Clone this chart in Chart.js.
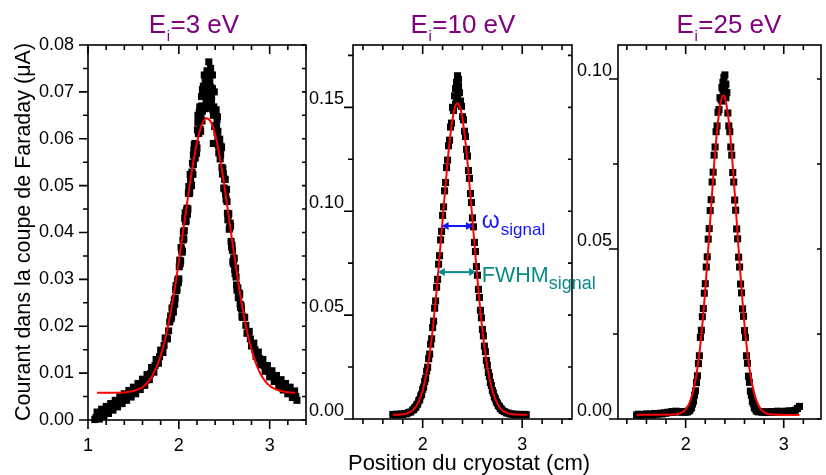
<!DOCTYPE html>
<html><head><meta charset="utf-8">
<script src="https://cdn.jsdelivr.net/npm/chart.js@4.4.1/dist/chart.umd.min.js"></script>
<style>
html,body{margin:0;padding:0;background:#fff;}
#wrap{position:relative;width:826px;height:475px;overflow:hidden;background:#fff;}
canvas{position:absolute;left:0;top:0;}
</style>
</head><body>
<div id="wrap">
<canvas id="c1" width="826" height="475"></canvas>
<canvas id="c2" width="826" height="475"></canvas>
<canvas id="c3" width="826" height="475"></canvas>
</div>
<script>
// ---------------- DATA ----------------
const panelEnergies = ['3', '10', '25'];
const yTitleText = 'Courant dans la coupe de Faraday (\u03BCA)';
const xTitleText = 'Position du cryostat (cm)';

const p1XTicks = [1, 2, 3];
const p1YTicks = [0, 0.01, 0.02, 0.03, 0.04, 0.05, 0.06, 0.07, 0.08];
const p2XTicks = [2, 3];
const p2YTicks = [0, 0.05, 0.10, 0.15];
const p3XTicks = [2, 3];
const p3YTicks = [0, 0.05, 0.10];

// Panel 1 (Ei = 3 eV) measured points [position, current]
const p1Data = [
// left tail
[1.075,.0001],[1.100,.0017],[1.125,.0002],[1.150,.0023],[1.175,.0008],[1.200,.0029],[1.225,.0014],[1.250,.0035],[1.275,.0021],[1.300,.0042],
[1.325,.0028],[1.350,.0049],[1.375,.0035],[1.400,.0056],[1.425,.0042],[1.450,.0063],[1.475,.0049],[1.500,.0070],[1.525,.0056],[1.550,.0078],
[1.575,.0065],[1.600,.0087],[1.625,.0074],[1.650,.0097],[1.675,.0086],[1.700,.0112],[1.725,.0102],[1.750,.0129],[1.775,.0121],[1.800,.0149],
[1.825,.0144],[1.850,.0175],[1.875,.0173],[1.900,.0209],
[1.0875,.0005],[1.1125,.0009],[1.1375,.0012],[1.1625,.0015],[1.1875,.0018],[1.2125,.0021],[1.2375,.0024],[1.2625,.0028],[1.2875,.0031],[1.3125,.0035],
[1.3375,.0038],[1.3625,.0042],[1.3875,.0045],[1.4125,.0049],[1.4375,.0052],[1.4625,.0056],[1.4875,.0059],[1.5125,.0063],[1.5375,.0067],[1.5625,.0071],
[1.5875,.0076],[1.6125,.0080],[1.6375,.0085],[1.6625,.0092],[1.6875,.0099],[1.7125,.0107],[1.7375,.0116],[1.7625,.0125],[1.7875,.0135],[1.8125,.0146],
[1.8375,.0159],[1.8625,.0174],[1.8875,.0190],
// core
[1.91,.0222],[1.92,.0220],[1.93,.0234],[1.94,.0231],[1.95,.0256],[1.96,.0260],[1.97,.0287],[1.98,.0279],[1.99,.0300],[2.00,.0301],
[2.01,.0341],[2.02,.0339],[2.03,.0363],[2.04,.0360],[2.05,.0401],[2.06,.0404],[2.07,.0442],[2.08,.0425],[2.09,.0452],[2.10,.0450],
[2.11,.0498],[2.12,.0486],[2.13,.0512],[2.14,.0500],[2.15,.0548],[2.16,.0545],[2.17,.0588],[2.18,.0559],[2.19,.0588],[2.20,.0580],
[2.21,.0635],[2.22,.0612],[2.23,.0638],[2.24,.0616],[2.25,.0670],[2.26,.0659],[2.27,.0703],[2.28,.0664],[2.29,.0691],[2.30,.0678],
[2.31,.0729],[2.32,.0698],[2.33,.0713],[2.34,.0674],[2.35,.0710],[2.36,.0681],[2.37,.0707],[2.38,.0650],[2.39,.0659],[2.40,.0628],
[2.41,.0662],[2.42,.0614],[2.43,.0616],[2.44,.0570],[2.45,.0599],[2.46,.0566],[2.47,.0581],[2.48,.0525],[2.49,.0525],[2.50,.0493],
[2.51,.0513],[2.52,.0471],[2.53,.0466],[2.54,.0427],[2.55,.0440],[2.56,.0410],[2.57,.0414],[2.58,.0369],[2.59,.0362],[2.60,.0333],
[2.61,.0344],[2.62,.0312],[2.63,.0305],[2.64,.0277],[2.65,.0281],[2.66,.0264],[2.67,.0268],[2.68,.0240],[2.69,.0237],
[1.915,.0216],[1.925,.0239],[1.935,.0230],[1.945,.0246],[1.955,.0247],[1.965,.0278],[1.975,.0276],[1.985,.0295],[1.995,.0293],[2.005,.0327],
[2.015,.0333],[2.025,.0368],[2.035,.0358],[2.045,.0384],[2.055,.0386],[2.065,.0430],[2.075,.0423],[2.085,.0447],[2.095,.0439],[2.105,.0484],
[2.115,.0483],[2.125,.0524],[2.135,.0501],[2.145,.0529],[2.155,.0524],[2.165,.0576],[2.175,.0559],[2.185,.0585],[2.195,.0569],[2.205,.0619],
[2.215,.0611],[2.225,.0656],[2.235,.0620],[2.245,.0649],[2.255,.0638],[2.265,.0693],[2.275,.0667],[2.285,.0691],[2.295,.0667],[2.305,.0717],
[2.315,.0701],[2.325,.0738],[2.335,.0687],[2.345,.0698],[2.355,.0668],[2.365,.0706],[2.375,.0662],[2.385,.0668],[2.395,.0626],[2.405,.0658],
[2.415,.0625],[2.425,.0647],[2.435,.0586],[2.445,.0591],[2.455,.0557],[2.465,.0584],[2.475,.0539],[2.485,.0536],[2.495,.0495],[2.505,.0514],
[2.515,.0482],[2.525,.0492],[2.535,.0441],[2.545,.0438],[2.555,.0407],[2.565,.0420],[2.575,.0381],[2.585,.0373],[2.595,.0338],[2.605,.0346],
[2.615,.0321],[2.625,.0324],[2.635,.0288],[2.645,.0282],[2.655,.0261],[2.665,.0271],[2.675,.0247],[2.685,.0244],[2.695,.0222],
// peak scatter
[2.33,.0764],[2.28,.0736],[2.37,.0736],[2.31,.0745],[2.35,.0750],[2.34,.0722],[2.27,.0712],[2.36,.0690],[2.25,.0690],[2.32,.0665],
[2.23,.0668],[2.40,.0660],[2.21,.0650],[2.42,.0640],[2.38,.0590],[2.43,.0600],[2.18,.0590],[2.16,.0565],[2.45,.0570],[2.29,.0725],
[2.39,.0700],[2.26,.0705],
// right tail
[2.700,.0219],[2.725,.0219],[2.750,.0185],[2.775,.0189],[2.800,.0158],[2.825,.0164],[2.850,.0136],[2.875,.0145],[2.900,.0118],[2.925,.0129],
[2.950,.0104],[2.975,.0116],[3.000,.0092],[3.025,.0105],[3.050,.0082],[3.075,.0095],[3.100,.0072],[3.125,.0086],[3.150,.0064],[3.175,.0078],
[3.200,.0056],[3.225,.0070],[3.250,.0048],[3.275,.0062],[3.300,.0042],
[2.7125,.0219],[2.7375,.0202],[2.7625,.0187],[2.7875,.0173],[2.8125,.0161],[2.8375,.0150],[2.8625,.0140],[2.8875,.0131],[2.9125,.0123],[2.9375,.0116],
[2.9625,.0110],[2.9875,.0104],[3.0125,.0098],[3.0375,.0093],[3.0625,.0088],[3.0875,.0083],[3.1125,.0079],[3.1375,.0075],[3.1625,.0071],[3.1875,.0067],
[3.2125,.0063],[3.2375,.0059],[3.2625,.0055],[3.2875,.0050]
];
// Panel 1 fit (red)
const p1Fit = [
[1.10,.0058],[1.30,.0058],[1.50,.0062],[1.55,.0065],[1.60,.0070],[1.65,.0079],[1.70,.0092],[1.75,.0111],[1.80,.0137],[1.85,.0173],
[1.90,.0219],[1.95,.0274],[2.00,.0338],[2.05,.0406],[2.10,.0475],[2.15,.0539],[2.20,.0592],[2.25,.0628],[2.30,.0644],[2.35,.0637],
[2.40,.0609],[2.45,.0562],[2.50,.0502],[2.55,.0434],[2.60,.0365],[2.65,.0299],[2.70,.0240],[2.75,.0190],[2.80,.0151],[2.85,.0120],
[2.90,.0098],[2.95,.0083],[3.00,.0073],[3.05,.0067],[3.10,.0063],[3.15,.0061],[3.20,.0059],[3.28,.0058]
];

// Panel 2 (Ei = 10 eV)
const p2Data = [
[1.70,.0022],[1.72,.0020],[1.74,.0023],[1.76,.0021],[1.78,.0024],[1.80,.0022],[1.82,.0026],[1.84,.0025],[1.86,.0031],[1.88,.0034],
[1.90,.0043],[1.91,.0046],[1.92,.0054],[1.93,.0057],[1.94,.0068],[1.95,.0072],[1.96,.0087],[1.97,.0093],[1.98,.0111],[1.99,.0119],
[2.00,.0142],[2.01,.0154],[2.02,.0181],[2.03,.0196],[2.04,.0230],[2.05,.0249],[2.06,.0290],[2.07,.0312],[2.08,.0360],[2.09,.0386],
[2.10,.0440],[2.11,.0471],[2.12,.0533],[2.13,.0568],[2.14,.0634],[2.15,.0672],[2.16,.0745],[2.17,.0786],[2.18,.0862],[2.19,.0903],
[2.20,.0980],[2.21,.1021],[2.22,.1098],[2.23,.1138],[2.24,.1210],[2.25,.1246],[2.26,.1315],[2.27,.1342],[2.28,.1405],[2.29,.1424],
[2.30,.1500],[2.31,.1485],[2.32,.1555],[2.33,.1590],[2.34,.1620],[2.35,.1652],[2.36,.1600],[2.37,.1570],[2.38,.1530],[2.39,.1505],
[2.40,.1455],[2.41,.1440],[2.42,.1385],[2.43,.1360],[2.44,.1298],[2.45,.1265],[2.46,.1196],[2.47,.1158],[2.48,.1085],[2.49,.1042],
[2.50,.0968],[2.51,.0925],[2.52,.0850],[2.53,.0806],[2.54,.0734],[2.55,.0692],[2.56,.0624],[2.57,.0585],[2.58,.0523],[2.59,.0487],
[2.60,.0431],[2.61,.0400],[2.62,.0351],[2.63,.0324],[2.64,.0282],[2.65,.0259],[2.66,.0224],[2.67,.0205],[2.68,.0176],[2.69,.0161],
[2.70,.0137],[2.71,.0125],[2.72,.0107],[2.73,.0097],[2.74,.0083],[2.75,.0076],[2.76,.0065],[2.77,.0060],[2.78,.0051],[2.79,.0048],
[2.80,.0041],[2.82,.0036],[2.84,.0030],[2.86,.0028],[2.88,.0024],[2.90,.0024],[2.92,.0021],[2.94,.0023],[2.96,.0021],[2.98,.0022],
[3.00,.0020],[3.02,.0022],[3.04,.0021],
[2.34,.1545],[2.35,.1560],[2.36,.1635],[2.33,.1515]
];
const p2Fit = [
[1.70,.0020],[1.80,.0023],[1.85,.0028],[1.90,.0042],[1.95,.0074],[2.00,.0137],[2.05,.0250],[2.10,.0428],[2.15,.0672],[2.20,.0959],
[2.25,.1238],[2.275,.1354],[2.30,.1444],[2.325,.1500],[2.35,.1520],[2.375,.1500],[2.40,.1444],[2.425,.1354],[2.45,.1238],[2.50,.0959],
[2.55,.0672],[2.60,.0428],[2.65,.0250],[2.70,.0137],[2.75,.0074],[2.80,.0042],[2.85,.0028],[2.90,.0023],[3.05,.0020]
];

// Panel 3 (Ei = 25 eV)
const p3Data = [
[1.50,.0012],[1.52,.0014],[1.54,.0011],[1.56,.0013],[1.58,.0012],[1.60,.0015],[1.62,.0013],[1.64,.0014],[1.66,.0012],[1.68,.0016],
[1.70,.0014],[1.72,.0015],[1.74,.0017],[1.76,.0015],[1.78,.0018],[1.80,.0017],[1.82,.0020],[1.84,.0019],[1.86,.0022],[1.88,.0020],
[1.90,.0023],[1.92,.0021],[1.94,.0022],[1.96,.0020],[1.98,.0021],
[2.00,.0020],[2.01,.0022],[2.02,.0021],[2.03,.0024],[2.04,.0025],[2.05,.0030],[2.06,.0034],[2.07,.0044],[2.08,.0053],[2.09,.0070],
[2.10,.0083],[2.11,.0107],[2.12,.0127],[2.13,.0163],[2.14,.0186],[2.15,.0240],[2.16,.0261],[2.17,.0301],[2.18,.0325],[2.19,.0370],
[2.20,.0398],[2.21,.0447],[2.22,.0477],[2.23,.0529],[2.24,.0560],[2.25,.0613],[2.26,.0645],[2.27,.0697],[2.28,.0726],[2.29,.0776],
[2.30,.0800],[2.31,.0845],[2.32,.0862],[2.33,.0902],[2.34,.0910],[2.35,.0945],[2.36,.0940],[2.37,.0975],[2.38,.0968],[2.39,.1005],
[2.40,.1012],[2.41,.0985],[2.42,.0960],[2.43,.0900],[2.44,.0862],[2.45,.0845],[2.46,.0800],[2.47,.0776],[2.48,.0725],[2.49,.0697],
[2.50,.0644],[2.51,.0614],[2.52,.0559],[2.53,.0530],[2.54,.0476],[2.55,.0447],[2.56,.0397],[2.57,.0371],[2.58,.0324],[2.59,.0302],
[2.60,.0260],[2.61,.0240],[2.62,.0186],[2.63,.0164],[2.64,.0126],[2.65,.0108],[2.66,.0082],[2.67,.0070],[2.68,.0052],[2.69,.0045],
[2.70,.0033],[2.71,.0030],[2.72,.0024],[2.73,.0024],[2.74,.0021],[2.76,.0022],[2.78,.0020],[2.80,.0021],[2.82,.0019],[2.84,.0021],
[2.86,.0020],[2.88,.0022],[2.90,.0020],[2.92,.0021],[2.94,.0023],[2.96,.0021],[2.98,.0022],[3.00,.0021],[3.02,.0023],[3.04,.0022],
[3.06,.0024],[3.08,.0022],[3.10,.0024],[3.12,.0026],[3.14,.0031],[3.16,.0037],
[2.38,.0990],[2.40,.0970],[2.39,.0950],[2.41,.0945],[2.37,.0935]
];
const p3Fit = [
[1.50,.0012],[1.90,.0014],[1.95,.0017],[2.00,.0028],[2.05,.0055],[2.10,.0114],[2.15,.0219],[2.20,.0380],[2.25,.0583],[2.30,.0783],
[2.35,.0921],[2.385,.0952],[2.40,.0946],[2.45,.0849],[2.50,.0666],[2.55,.0458],[2.60,.0277],[2.65,.0149],[2.70,.0074],[2.75,.0036],
[2.80,.0020],[2.85,.0014],[3.16,.0012]
];

// Annotation (in panel-2 data units)
const annoArrows = [
  {x1: 2.19, x2: 2.505, y: 0.0929, color: '#1414ff'},
  {x1: 2.152, x2: 2.537, y: 0.0707, color: '#0b8989'}
];

// ---------------- RENDERING ----------------
const FONT = '"Liberation Sans", Arial, Helvetica, sans-serif';
const toXY = arr => arr.map(p => ({x: p[0], y: p[1]}));

const frameTicks = {
  id: 'frameTicks',
  afterDatasetsDraw(chart, args, o) {
    const {ctx, chartArea: a} = chart;
    const xs = chart.scales.x, ys = chart.scales.y;
    ctx.save();
    ctx.strokeStyle = '#000';
    ctx.lineWidth = 1.6;
    ctx.beginPath();
    const seg = (x1, y1, x2, y2) => { ctx.moveTo(x1, y1); ctx.lineTo(x2, y2); };
    const nx = Math.round((o.x1 - o.x0) / o.xs);
    for (let i = 0; i <= nx; i++) {
      const v = o.x0 + i * o.xs;
      const p = xs.getPixelForValue(v);
      const maj = Math.abs(v - Math.round(v)) < 1e-6;
      const L = maj ? 9 : 5;
      seg(p, a.bottom, p, a.bottom + L);
      seg(p, a.top, p, a.top + L);
    }
    const ny = Math.round((o.y1 - o.y0) / o.ys);
    for (let i = 0; i <= ny; i++) {
      const v = o.y0 + i * o.ys;
      const p = ys.getPixelForValue(v);
      const r = v / o.ym;
      const maj = Math.abs(r - Math.round(r)) < 1e-6;
      seg(a.left - (maj ? 9 : 5), p, a.left, p);
      seg(a.right - 4, p, a.right, p);
    }
    ctx.stroke();
    ctx.strokeRect(a.left, a.top, a.right - a.left, a.bottom - a.top);
    ctx.restore();
  }
};

function drawTitle(ctx, cx, num) {
  const big = '26px ' + FONT, small = '15px ' + FONT;
  ctx.font = big;
  const wE = ctx.measureText('E').width;
  const rest = '=' + num + ' eV';
  const wR = ctx.measureText(rest).width;
  ctx.font = small;
  const wi = ctx.measureText('i').width + 1;
  let x = cx - (wE + wi + wR) / 2;
  ctx.fillStyle = '#800080';
  ctx.textAlign = 'left';
  ctx.textBaseline = 'alphabetic';
  ctx.font = big; ctx.fillText('E', x, 33); x += wE;
  ctx.font = small; ctx.fillText('i', x + 0.5, 41); x += wi;
  ctx.font = big; ctx.fillText(rest, x, 33);
}

const textOverlay = {
  id: 'textOverlay',
  afterDraw(chart) {
    const ctx = chart.ctx;
    ctx.save();
    const centers = [194, 463, 729];
    panelEnergies.forEach((e, i) => drawTitle(ctx, centers[i], e));
    ctx.fillStyle = '#000';
    ctx.font = '21.5px ' + FONT;
    ctx.textAlign = 'center';
    ctx.textBaseline = 'alphabetic';
    ctx.save();
    ctx.translate(30, 232);
    ctx.rotate(-Math.PI / 2);
    ctx.fillText(yTitleText, 0, 0);
    ctx.restore();
    ctx.font = '22px ' + FONT;
    ctx.fillText(xTitleText, 469, 470);
    ctx.restore();
  }
};

const annotate = {
  id: 'annotate',
  afterDraw(chart) {
    const ctx = chart.ctx;
    const xs = chart.scales.x, ys = chart.scales.y;
    ctx.save();
    annoArrows.forEach(a => {
      const x1 = xs.getPixelForValue(a.x1), x2 = xs.getPixelForValue(a.x2), y = ys.getPixelForValue(a.y);
      ctx.strokeStyle = a.color; ctx.fillStyle = a.color; ctx.lineWidth = 2;
      ctx.beginPath(); ctx.moveTo(x1 + 5, y); ctx.lineTo(x2 - 5, y); ctx.stroke();
      ctx.beginPath(); ctx.moveTo(x1, y); ctx.lineTo(x1 + 7, y - 4); ctx.lineTo(x1 + 7, y + 4); ctx.closePath(); ctx.fill();
      ctx.beginPath(); ctx.moveTo(x2, y); ctx.lineTo(x2 - 7, y - 4); ctx.lineTo(x2 - 7, y + 4); ctx.closePath(); ctx.fill();
    });
    ctx.textAlign = 'left'; ctx.textBaseline = 'alphabetic';
    let tx = xs.getPixelForValue(2.594), ty = ys.getPixelForValue(0.0919);
    ctx.fillStyle = '#1414ff';
    ctx.font = '23px ' + FONT; ctx.fillText('\u03C9', tx, ty);
    ctx.font = '17px ' + FONT; ctx.fillText('signal', tx + 19, ty + 7);
    tx = xs.getPixelForValue(2.594); ty = ys.getPixelForValue(0.0659);
    ctx.fillStyle = '#0b8989';
    ctx.font = '21.5px ' + FONT; ctx.fillText('FWHM', tx, ty);
    const w = ctx.measureText('FWHM').width;
    ctx.font = '18px ' + FONT; ctx.fillText('signal', tx + w, ty + 7);
    ctx.restore();
  }
};

function makeChart(id, cfg) {
  const tickFont = {family: FONT, size: 18};
  return new Chart(document.getElementById(id), {
    data: {
      datasets: [
        {type: 'line', data: toXY(cfg.fit), borderColor: '#ff0000', borderWidth: 2, pointRadius: 0,
         cubicInterpolationMode: 'monotone', fill: false, order: 0},
        {type: 'scatter', data: toXY(cfg.data), pointStyle: 'rect', pointRadius: 5, backgroundColor: '#000',
         borderWidth: 0, order: 1, clip: false}
      ]
    },
    options: {
      responsive: false, animation: false, devicePixelRatio: 1,
      layout: {padding: {left: cfg.padL, right: cfg.padR, top: 45, bottom: 0}},
      plugins: {legend: {display: false}, tooltip: {enabled: false}, title: {display: false},
        frameTicks: cfg.ticks},
      scales: {
        x: {type: 'linear', min: cfg.xmin, max: cfg.xmax,
            afterBuildTicks: s => { s.ticks = cfg.xTicks.map(v => ({value: v})); },
            afterFit: s => { s.height = cfg.xH; },
            grid: {display: false, drawTicks: false}, border: {display: false},
            ticks: {font: tickFont, color: '#000', padding: 15, maxRotation: 0, autoSkip: false,
                    callback: v => String(v)}},
        y: {type: 'linear', min: 0, max: cfg.ymax,
            afterBuildTicks: s => { s.ticks = cfg.yTicks.map(v => ({value: v})); },
            afterFit: s => { s.width = cfg.yW; },
            grid: {display: false, drawTicks: false}, border: {display: false},
            ticks: {font: tickFont, color: '#000', padding: cfg.yPad, labelOffset: cfg.yOff, autoSkip: false,
                    callback: v => Number(v).toFixed(2)}}
      }
    },
    plugins: [frameTicks].concat(cfg.extra || [])
  });
}

makeChart('c1', {data: p1Data, fit: p1Fit, xmin: 1, xmax: 3.4, ymax: 0.08, xTicks: p1XTicks, yTicks: p1YTicks,
  padL: 0, padR: 520, yW: 88, xH: 55, yPad: 14, yOff: 0,
  ticks: {x0: 1.0, x1: 3.4, xs: 0.2, y0: 0, y1: 0.08, ys: 0.005, ym: 0.01}, extra: [textOverlay]});
makeChart('c2', {data: p2Data, fit: p2Fit, xmin: 1.3, xmax: 3.5, ymax: 0.18, xTicks: p2XTicks, yTicks: p2YTicks,
  padL: 306, padR: 254, yW: 47, xH: 56, yPad: 9, yOff: -8,
  ticks: {x0: 1.4, x1: 3.4, xs: 0.2, y0: 0, y1: 0.175, ys: 0.025, ym: 0.05}, extra: [annotate]});
makeChart('c3', {data: p3Data, fit: p3Fit, xmin: 1.31, xmax: 3.38, ymax: 0.11, xTicks: p3XTicks, yTicks: p3YTicks,
  padL: 572, padR: 1, yW: 46, xH: 56, yPad: 6, yOff: -8,
  ticks: {x0: 1.4, x1: 3.2, xs: 0.2, y0: 0, y1: 0.10, ys: 0.025, ym: 0.05}});
</script>
</body></html>
